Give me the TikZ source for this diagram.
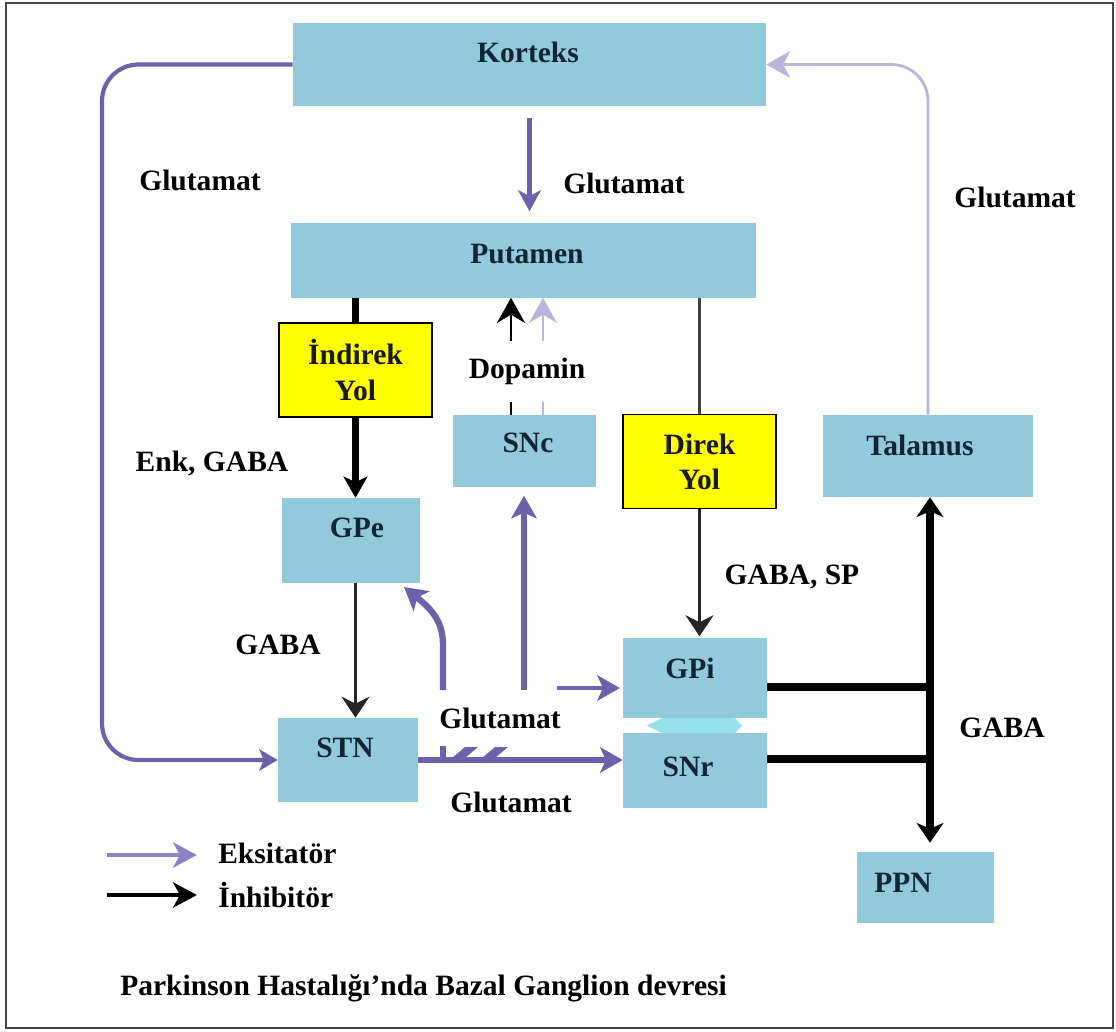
\documentclass[tikz,border=0pt]{standalone}
\usepackage{fontspec}
\setmainfont{Liberation Serif}
\usetikzlibrary{arrows.meta, positioning, calc}
\definecolor{boxblue}{RGB}{146,202,220}
\definecolor{boxtext}{RGB}{14,38,54}
\definecolor{yolyellow}{RGB}{255,255,0}
\definecolor{excpurple}{RGB}{108,98,172}
\definecolor{exclegend}{RGB}{140,130,200}
\definecolor{excpale}{RGB}{186,182,218}
\definecolor{bridge}{RGB}{150,226,236}
\definecolor{framegray}{RGB}{70,70,70}

\begin{document}
\begin{tikzpicture}[x=0.025cm, y=-0.025cm,
    font=\fontsize{21}{25}\selectfont\bfseries,
    box/.style 2 args={fill=boxblue, inner sep=0pt, text=boxtext,
                       minimum width=#1*0.025cm, minimum height=#2*0.025cm},
    yol/.style={box={153}{94}, fill=yolyellow, draw=black, line width=1.1pt,
                align=center, text=black!90},
    lbl/.style={inner sep=0pt, text=black},
    boxlbl/.style={inner sep=0pt, text=boxtext},
    cortex/.style={draw=excpurple, line width=3pt, rounded corners=26pt,
                   -{Stealth[length=13pt, width=15pt, inset=3pt]}},
    thal/.style={draw=excpale, line width=2pt, rounded corners=26pt,
                 -{Stealth[length=17pt, width=19pt, inset=5pt]}},
    glu/.style={draw=excpurple, line width=3pt,
                -{Stealth[length=15pt, width=16pt, inset=4pt]}},
    excthick/.style={draw=excpurple, line width=4.5pt,
                     -{Stealth[length=16pt, width=18pt, inset=4pt]}},
    inhthick/.style={draw=black, line width=5.5pt},
    inhtip/.style={-{Stealth[length=15pt, width=17pt, inset=4pt]}},
    inhthin/.style={draw=black!85, line width=1.6pt,
                    -{Stealth[length=15pt, width=20pt, inset=5pt]}},
    dop/.style={line width=1.6pt, -{Stealth[length=18pt, width=20pt, inset=6pt]}},
  ]
  \useasboundingbox (0,0) rectangle (1116,1031);
  \draw[framegray, line width=1.5pt] (6,3) rectangle (1113,1028);

  % boxes
  \node[box={473}{83}] (korteks) at (529.5,64.5) {};
  \node[box={465}{75}] (putamen) at (523.5,260.5) {};
  \node[yol] (indirek) at (355.5,370) {İndirek\\Yol};
  \node[box={143}{72}] (snc) at (524.5,451) {};
  \node[yol] (direk) at (699.5,461.5) {Direk\\Yol};
  \node[box={210}{82}] (talamus) at (928,456) {};
  \node[box={138}{85}] (gpe) at (351,540.5) {};
  \node[box={144}{80}] (gpi) at (695,678) {};
  \node[box={144}{75}] (snr) at (695,770.5) {};
  \node[box={140}{84}] (stn) at (348,760) {};
  \node[box={137}{71}] (ppn) at (925.5,887.5) {};
  \fill[bridge] (647,725.5) -- (662,718) -- (735,718) -- (742,725.5)
    -- (735,733) -- (662,733) -- cycle;

  % box texts
  \node[boxlbl] (korteks-t) at (528,52) {Korteks};
  \node[boxlbl] (putamen-t) at (527,254) {Putamen};
  \node[boxlbl] (snc-t) at (528,443) {SNc};
  \node[boxlbl] (talamus-t) at (920,445) {Talamus};
  \node[boxlbl] (gpe-t) at (357,528) {GPe};
  \node[boxlbl] (gpi-t) at (690,668) {GPi};
  \node[boxlbl] (snr-t) at (688,767) {SNr};
  \node[boxlbl] (stn-t) at (345,748) {STN};
  \node[boxlbl] (ppn-t) at (903,883) {PPN};

  % excitatory (glutamate) paths
  \coordinate (loopx) at (102,400);
  \draw[cortex] (korteks.west) -| (loopx) |- (stn.west);
  \draw[thal] (talamus.north) |- (korteks.east);
  \draw[glu, shorten <=8.5pt, shorten >=8pt] (korteks.south) -- (korteks.south |- putamen.north);

  \coordinate (brL) at (443,690);
  \coordinate (brM) at (524,690);
  \coordinate (brR) at (557,688);
  \draw[excthick] (stn.east) -- (snr.west |- stn.east);
  \draw[excthick] (brL) -- (443,645) .. controls (443,620) and (430,608) .. (404,587);
  \draw[excthick, shorten >=6pt] (brM) -- (brM |- snc.south);
  \draw[excthick, line width=3.5pt, shorten >=2pt] (brR) -- (brR -| gpi.west);
  % small marks on the STN-SNr arrow
  \fill[excpurple] (440,746) rectangle (446,758);
  \foreach \mx in {452,482}
    \fill[excpurple] (\mx,758) -- (\mx+13,747) -- (\mx+26,747) -- (\mx+13,758) -- cycle;

  % dopamine
  \draw[dop, black] ([shift={(-13.5,0)}]snc.north) -- ++(0,-117);
  \draw[dop, excpale] ([shift={(18.5,0)}]snc.north) -- ++(0,-117);
  \node[lbl, fill=white, minimum height=61*0.025cm] (dopamin) at (527,371) {Dopamin};

  % inhibitory paths
  \draw[inhthick] (indirek.north |- putamen.south) -- (indirek.north);
  \draw[inhthick, inhtip] (indirek.south) -- (indirek.south |- gpe.north);
  \draw[inhthin] (indirek.south |- gpe.south) -- (indirek.south |- stn.north);
  \draw[black!75, line width=1.8pt] (direk.north |- putamen.south) -- (direk.north);
  \draw[inhthin, shorten >=1pt] (direk.south) -- (direk.south |- gpi.north);

  \coordinate (jgpi) at (930,687);
  \coordinate (jsnr) at (930,759);
  \draw[inhthick] (gpi.east |- jgpi) -- (jgpi);
  \draw[inhthick] (snr.east |- jsnr) -- (jsnr);
  \draw[inhthick, {Stealth[length=14pt, width=19pt, inset=4pt]}-{Stealth[length=14pt, width=19pt, inset=4pt]},
        shorten >=6.4pt] (talamus.south -| jgpi) -- (ppn.north -| jgpi);

  % labels
  \node[lbl] (glu-left) at (200,180) {Glutamat};
  \node[lbl] (glu-top) at (624,183) {Glutamat};
  \node[lbl] (glu-right) at (1015,197) {Glutamat};
  \node[lbl] (enk) at (212,464) {Enk, GABA};
  \node[lbl] (gaba-sp) at (792,577) {GABA, SP};
  \node[lbl] (gaba-gpe) at (278,645) {GABA};
  \node[lbl] (glu-mid) at (500,718) {Glutamat};
  \node[lbl] (glu-low) at (511,802) {Glutamat};
  \node[lbl] (gaba-out) at (1002,728) {GABA};

  % legend
  \coordinate (legE) at (107,855);
  \coordinate (legI) at (107,895);
  \node[lbl, anchor=west] (eks) at (218,853) {Eksitatör};
  \node[lbl, anchor=west] (inh) at (218,895) {İnhibitör};
  \draw[draw=exclegend, line width=2.8pt, shorten >=15pt,
        -{Stealth[length=17pt, width=18pt, inset=5pt]}] (legE) -- (legE -| eks.west);
  \draw[draw=black, line width=2.8pt, shorten >=15pt,
        -{Stealth[length=17pt, width=18pt, inset=5pt]}] (legI) -- (legI -| inh.west);

  \node[lbl, anchor=west] (title) at (120,988)
    {Parkinson Hastalığı’nda Bazal Ganglion devresi};
\end{tikzpicture}
\end{document}
